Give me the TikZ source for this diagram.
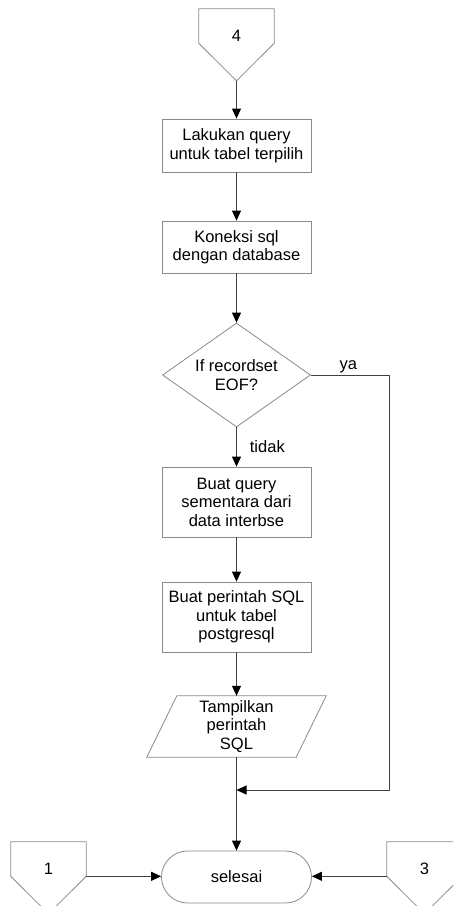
\documentclass[tikz,border=0pt]{standalone}
\usepackage{fontspec}
\setmainfont{Liberation Sans}
\usetikzlibrary{shapes.geometric,arrows.meta,calc}
\definecolor{shapeline}{HTML}{8A8A8A}
\definecolor{wirecol}{HTML}{404040}

\begin{document}
\begin{tikzpicture}[x=1pt,y=-1pt,
  font=\fontsize{16.5}{18.5}\selectfont,
  procbox/.style={rectangle, draw=shapeline, line width=0.8pt,
    minimum width=149pt, inner sep=2pt, align=center},
  decision/.style={diamond, aspect=1.42, draw=shapeline, line width=0.8pt,
    minimum width=148pt, minimum height=104pt, inner sep=0pt, align=center},
  ghost/.style={rectangle, inner sep=0pt, align=center},
  offpage/.style={ghost, minimum width=75pt, minimum height=54pt},
  terminal/.style={rectangle, rounded corners=26pt, draw=shapeline,
    line width=0.8pt, minimum width=150pt, minimum height=52pt},
  outline/.style={draw=shapeline, line width=0.8pt},
  flow/.style={draw=wirecol, line width=0.8pt,
    -{Triangle[length=10pt,width=9pt,black]}},
  lbl/.style={inner sep=2pt}]

  \useasboundingbox (0,0) rectangle (453,906);
  \clip (0,0) rectangle (453,906);

  % off-page connectors
  \node[offpage] (c4) at (236.5,36) {4};
  \node[offpage] (c1) at (48.5,869) {1};
  \node[offpage] (c3) at (424.5,869) {3};
  \foreach \n in {c4,c1,c3} {
    \draw[outline] (\n.north west) -- (\n.north east)
      -- ($(\n.north east)+(0,34.5)$) -- ($(\n.north)+(0,72)$)
      -- ($(\n.north west)+(0,34.5)$) -- cycle;
  }
  \coordinate (c4tip) at ($(c4.north)+(0,72)$);
  \coordinate (c1out) at ($(c1.north east)+(0,34.5)$);
  \coordinate (c3out) at ($(c3.north west)+(0,34.5)$);

  % process steps
  \node[procbox, minimum height=53pt] (query) at (236.5,145.5)
    {Lakukan query\\untuk tabel terpilih};
  \node[procbox, minimum height=52pt] (conn) at (236.5,247)
    {Koneksi sql\\dengan database};
  \node[decision] (eof) at (236.5,375) {If recordset\\EOF?};
  \node[procbox, minimum height=70pt] (temp) at (236.5,502)
    {Buat query\\sementara dari\\data interbse};
  \node[procbox, minimum height=70pt] (sqlcmd) at (236.5,617)
    {Buat perintah SQL\\untuk tabel\\postgresql};
  \node[ghost, minimum width=149pt, minimum height=61pt] (show) at (236.5,726.5)
    {Tampilkan\\perintah\\SQL};
  \draw[outline] ($(show.north west)+(15,0)$) -- ($(show.north east)+(15,0)$)
    -- ($(show.south east)+(-15,0)$) -- ($(show.south west)+(-15,0)$) -- cycle;
  \node[terminal] (done) at (236.5,877) {selesai};

  % connectors
  \draw[flow] (c4tip) -- (query);
  \draw[flow] (query) -- (conn);
  \draw[flow] (conn) -- (eof);
  \draw[flow] (eof) -- node[lbl, anchor=west, xshift=11pt] {tidak} (temp);
  \draw[flow] (temp) -- (sqlcmd);
  \draw[flow] (sqlcmd) -- (show);
  \coordinate (merge) at (236.5,790);
  \draw[flow] (show) -- (done);
  \coordinate (bend) at (389,375);
  \draw[flow] (eof.east) -- node[lbl, above, pos=0.48] {ya} (bend) |- (merge);
  \draw[flow] (c1out) -- (c1out -| done.west);
  \draw[flow] (c3out) -- (c3out -| done.east);
\end{tikzpicture}
\end{document}
